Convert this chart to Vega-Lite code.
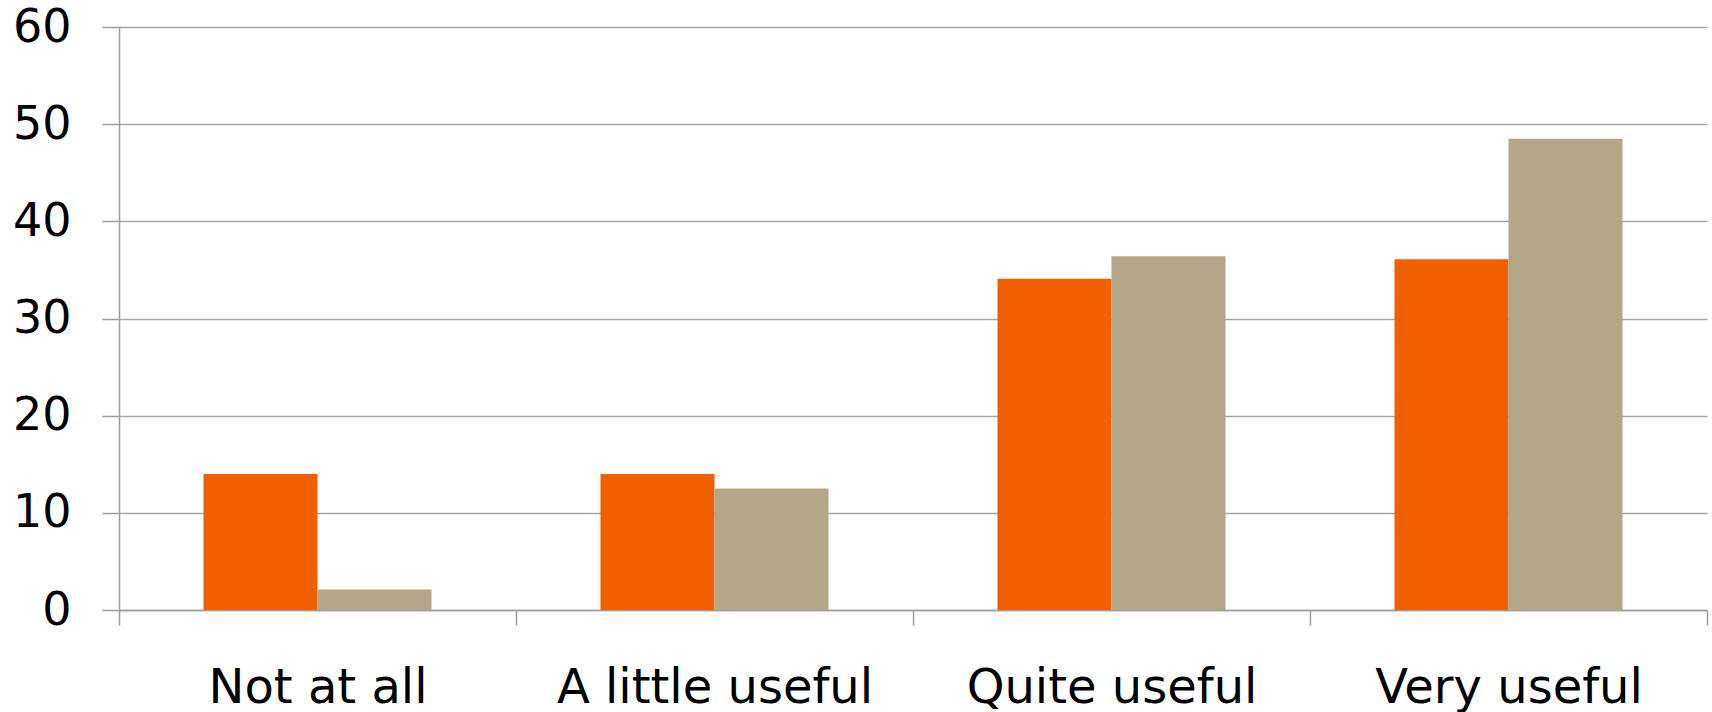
{
  "$schema": "https://vega.github.io/schema/vega-lite/v6.json",
  "autosize": "none",
  "width": 1588,
  "height": 583,
  "padding": {"left": 119, "top": 27, "right": 5, "bottom": 102},
  "background": "white",
  "config": {
    "view": {"stroke": null},
    "axis": {
      "labelFont": "DejaVu Sans",
      "labelFontSize": 46,
      "labelColor": "#000000",
      "labelLimit": 0,
      "domainColor": "#9E9E9E",
      "tickColor": "#9E9E9E",
      "gridColor": "#A8A8A8",
      "domainWidth": 1.5,
      "tickWidth": 1.5,
      "gridWidth": 1.5,
      "title": null
    }
  },
  "data": {
    "values": [
      {"category": "Not at all", "series": "Series 1", "value": 14},
      {"category": "Not at all", "series": "Series 2", "value": 2.1},
      {"category": "A little useful", "series": "Series 1", "value": 14},
      {"category": "A little useful", "series": "Series 2", "value": 12.5},
      {"category": "Quite useful", "series": "Series 1", "value": 34.1},
      {"category": "Quite useful", "series": "Series 2", "value": 36.4},
      {"category": "Very useful", "series": "Series 1", "value": 36.1},
      {"category": "Very useful", "series": "Series 2", "value": 48.5}
    ]
  },
  "mark": {"type": "bar"},
  "encoding": {
    "x": {
      "field": "category",
      "type": "nominal",
      "sort": ["Not at all", "A little useful", "Quite useful", "Very useful"],
      "scale": {"paddingInner": 0, "paddingOuter": 0},
      "axis": {
        "labelAngle": 0,
        "labelFontSize": 48,
        "tickBand": "extent",
        "tickSize": 15,
        "labelPadding": 39,
        "grid": false
      }
    },
    "xOffset": {
      "field": "series",
      "type": "nominal",
      "sort": ["Series 1", "Series 2"],
      "scale": {"paddingInner": 0, "paddingOuter": 0.741}
    },
    "y": {
      "field": "value",
      "type": "quantitative",
      "scale": {"domain": [0, 60], "nice": false},
      "axis": {
        "values": [0, 10, 20, 30, 40, 50, 60],
        "grid": true,
        "tickSize": 17,
        "labelPadding": 31
      }
    },
    "color": {
      "field": "series",
      "type": "nominal",
      "scale": {"domain": ["Series 1", "Series 2"], "range": ["#F06000", "#B3A78A"]},
      "legend": null
    }
  }
}
